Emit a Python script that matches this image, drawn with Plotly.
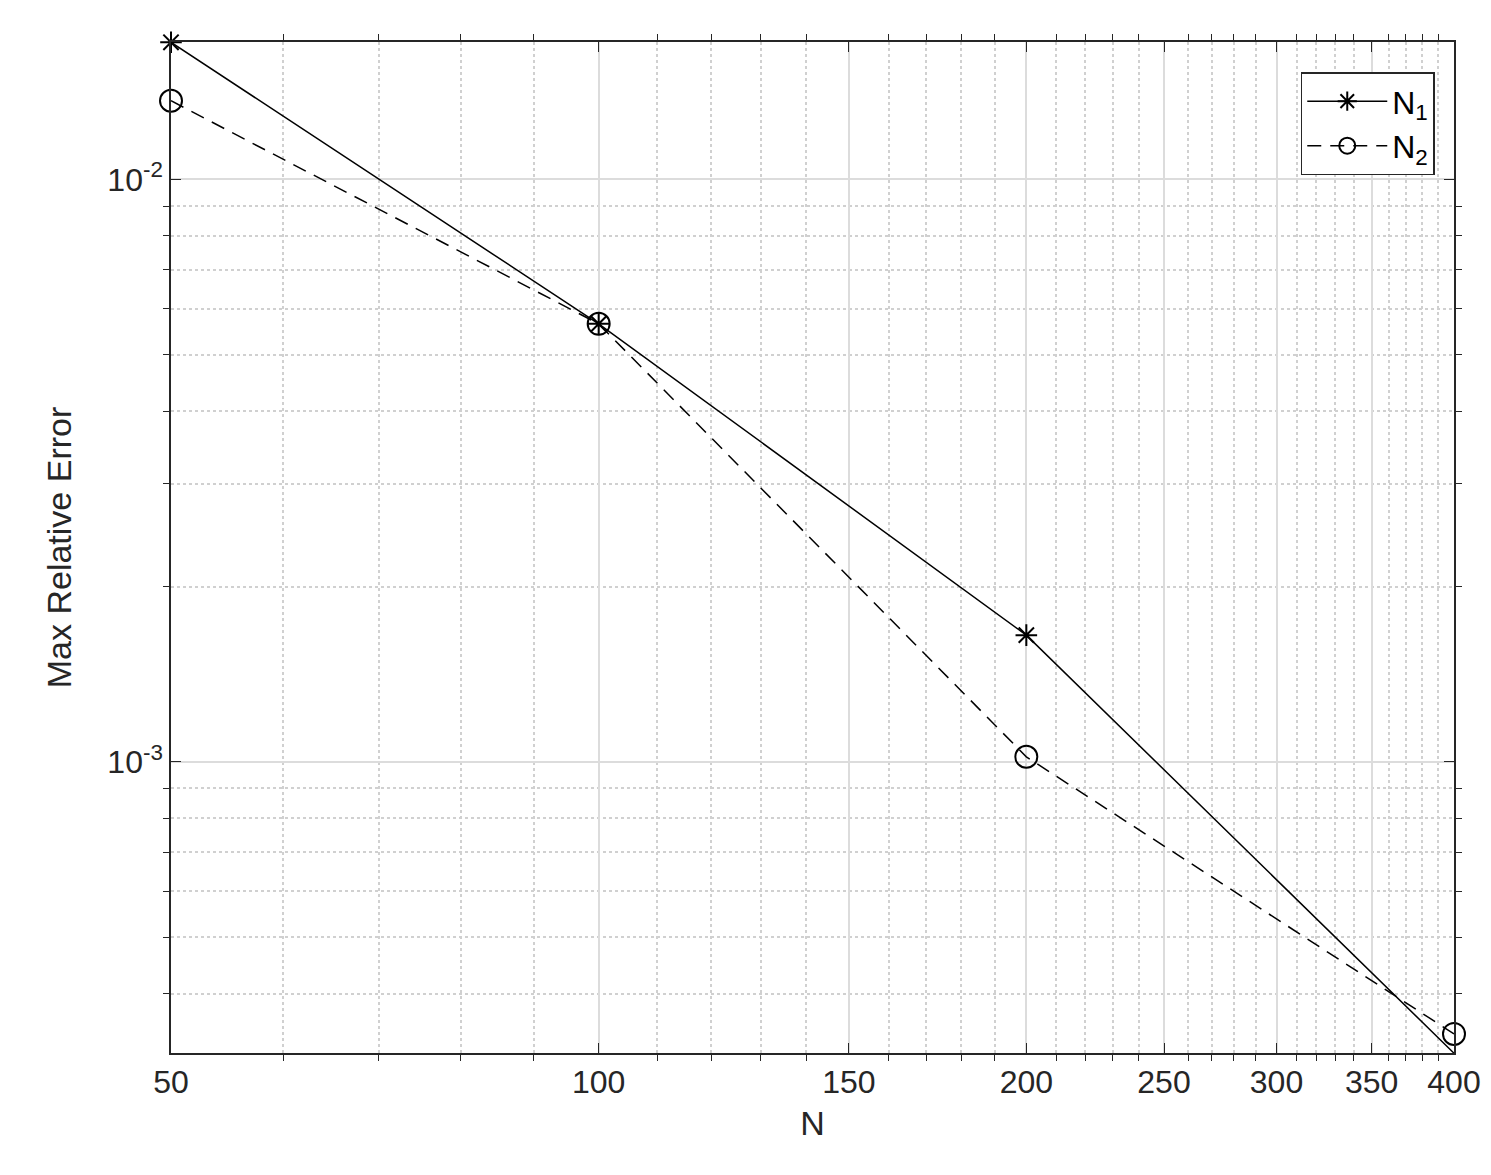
import plotly.graph_objects as go

# // data
n_vals = [50, 100, 200, 400]
err_n1 = [0.0172, 0.00565, 0.00165, 0.000316]
err_n2 = [0.01365, 0.00565, 0.00102, 0.000341]
x_ticks = [50, 100, 150, 200, 250, 300, 350, 400]
x_minor = [60, 70, 80, 90, 110, 120, 130, 140, 160, 170, 180, 190,
           210, 220, 230, 240, 260, 270, 280, 290, 310, 320, 330, 340,
           360, 370, 380, 390]
y_ticks = [0.001, 0.01]
y_labels = ["10<sup>-3</sup>", "10<sup>-2</sup>"]
y_minor = [m * 1e-4 for m in range(3, 10)] + [m * 1e-3 for m in range(2, 10)]

fam = "Liberation Sans, Arial"
font = dict(family=fam, size=32, color="#262626")

fig = go.Figure()
fig.add_trace(go.Scatter(
    x=n_vals, y=err_n1, mode="lines+markers", name="N<sub>1</sub>", cliponaxis=False,
    line=dict(color="black", width=1.5),
    marker=dict(symbol="asterisk-open", size=18, color="black", line=dict(width=2, color="black"))))
fig.add_trace(go.Scatter(
    x=n_vals, y=err_n2, mode="lines+markers", name="N<sub>2</sub>", cliponaxis=False,
    line=dict(color="black", width=1.5, dash="14px,9px"),
    marker=dict(symbol="circle-open", size=22, color="black", line=dict(width=2, color="black"))))

fig.update_xaxes(
    type="log", range=[1.69897, 2.60206],
    tickvals=x_ticks, ticktext=[str(v) for v in x_ticks],
    showgrid=True, gridcolor="#dcdcdc", gridwidth=1.5,
    minor=dict(tickvals=x_minor, showgrid=True, gridcolor="#d0d0d0", griddash="dot", ticklen=6, tickcolor="#262626"),
    ticks="inside", ticklen=10, tickcolor="#262626",
    showline=True, linecolor="#262626", linewidth=1.5, mirror="ticks",
    zeroline=False, tickfont=font,
    title=dict(text="N", font=dict(family=fam, size=34, color="#262626"), standoff=12))
fig.update_yaxes(
    type="log", range=[-3.5, -1.764],
    tickvals=y_ticks, ticktext=y_labels,
    showgrid=True, gridcolor="#dcdcdc", gridwidth=1.5,
    minor=dict(tickvals=y_minor, showgrid=True, gridcolor="#d0d0d0", griddash="dot", ticklen=6, tickcolor="#262626"),
    ticks="inside", ticklen=10, tickcolor="#262626",
    showline=True, linecolor="#262626", linewidth=1.5, mirror="ticks",
    zeroline=False, tickfont=font,
    title=dict(text="Max Relative Error", font=dict(family=fam, size=34, color="#262626"), standoff=25))

fig.update_layout(
    width=1491, height=1175,
    margin=dict(l=163, r=45, t=34, b=130),
    plot_bgcolor="white", paper_bgcolor="white",
    font=font,
    legend=dict(x=0.985, y=0.97, xanchor="right", yanchor="top",
                bgcolor="white", bordercolor="#262626", borderwidth=1.5,
                itemwidth=80, tracegroupgap=10,
                font=dict(family=fam, size=32, color="black")),
)

fig.write_html("out.html")
